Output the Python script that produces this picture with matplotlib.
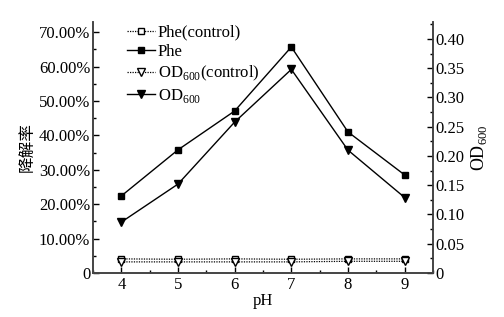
import matplotlib
matplotlib.use("Agg")
import matplotlib.pyplot as plt
from matplotlib.ticker import FuncFormatter, MultipleLocator

plt.rcParams['font.family'] = ['Liberation Serif', 'Noto Sans CJK SC']
plt.rcParams['mathtext.fontset'] = 'custom'
plt.rcParams['mathtext.rm'] = 'Liberation Serif'

ph = [4, 5, 6, 7, 8, 9]
phe = [22.4, 35.8, 47.1, 65.7, 41.0, 28.5]
phe_control = [4.1, 4.0, 4.1, 4.0, 4.1, 4.1]
od = [0.087, 0.152, 0.258, 0.348, 0.210, 0.129]
od_control = [0.019, 0.019, 0.019, 0.019, 0.020, 0.020]

fig = plt.figure(figsize=(5.04, 3.17), dpi=100)
ax = fig.add_axes([93 / 504, 44 / 317, 340 / 504, 251 / 317])
ax2 = ax.twinx()

l1, = ax.plot(ph, phe_control, ls=(0, (1, 1)), color='black', lw=0.9,
              marker='s', ms=4.5, mfc='white', mec='black', label='Phe(control)')
l2, = ax.plot(ph, phe, ls='-', color='black', lw=1.0,
              marker='s', ms=4.5, mfc='black', mec='black', label='Phe')
l3, = ax2.plot(ph, od_control, ls=(0, (1, 1)), color='black', lw=0.9,
               marker='v', ms=5.5, mfc='white', mec='black', label='OD$_{600}$(control)')
l4, = ax2.plot(ph, od, ls='-', color='black', lw=1.0,
               marker='v', ms=5.5, mfc='black', mec='black', label='OD$_{600}$')

ax.set_xlim(3.5, 9.5)
ax.set_ylim(0, 72.96)
ax2.set_ylim(0, 0.429)

ax.xaxis.set_major_locator(MultipleLocator(1))
ax.xaxis.set_minor_locator(MultipleLocator(0.5))
ax.yaxis.set_major_locator(MultipleLocator(10))
ax.yaxis.set_minor_locator(MultipleLocator(5))
ax2.yaxis.set_major_locator(MultipleLocator(0.05))
ax2.yaxis.set_minor_locator(MultipleLocator(0.025))

ax.yaxis.set_major_formatter(FuncFormatter(lambda v, p: '0' if abs(v) < 1e-9 else '%.2f%%' % v))
ax2.yaxis.set_major_formatter(FuncFormatter(lambda v, p: '0' if abs(v) < 1e-9 else '%.2f' % v))

for a in (ax, ax2):
    a.spines['top'].set_visible(False)
    for s in a.spines.values():
        s.set_linewidth(1.2)
        s.set_color('#444444')
    a.tick_params(which='both', direction='in', labelsize=12, colors='black')
    a.tick_params(which='major', length=4, width=1)
    a.tick_params(which='minor', length=2.5, width=1)
ax.tick_params(axis='x', pad=3)
ax.tick_params(axis='y', pad=2)
ax2.tick_params(axis='y', pad=2)

ax.set_xlabel('pH', fontsize=12, labelpad=0)
ax.set_ylabel('降解率', fontsize=12, family=['Noto Sans CJK SC'], labelpad=2)
ax2.set_ylabel('OD$_{600}$', fontsize=13, labelpad=3)

ax.legend(handles=[l1, l2, l3, l4], loc='upper left', bbox_to_anchor=(0.07, 1.03),
          frameon=False, fontsize=12, handlelength=1.7, handletextpad=0.15,
          labelspacing=0.22, borderaxespad=0.2)

fig.savefig('out.png', dpi=100)
